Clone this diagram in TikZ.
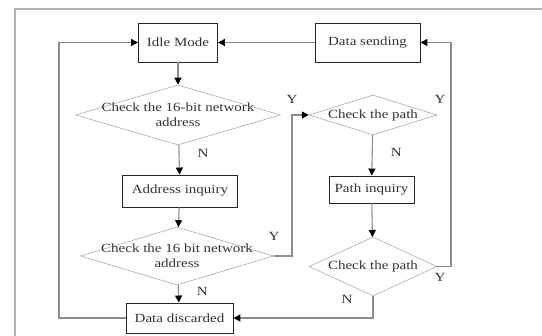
\documentclass[tikz,border=0pt]{standalone}
\usepackage{fontspec}
\setmainfont{Liberation Serif}[FakeStretch=1.2]
\usepackage{xcolor}
\usetikzlibrary{arrows.meta, shapes.geometric}
\definecolor{lineg}{gray}{0.55}
\definecolor{textg}{gray}{0.2}

\begin{document}
\begin{tikzpicture}[
  x=1pt, y=-1pt,
  every node/.style={font=\fontsize{12.5}{15}\selectfont, text=textg},
  box/.style={draw=black!85, line width=0.9pt, inner sep=0pt, align=center},
  decision/.style={diamond, draw=gray!75, line width=0.5pt, inner sep=0pt},
  arrow/.style={-{Triangle[length=7pt, width=7pt, color=black]}, line width=1.1pt, color=lineg},
  yn/.style={inner sep=1pt}
]
  \useasboundingbox (0,0) rectangle (542,336);
  \draw[line width=1.4pt, gray!60] (542,9) -- (15,9) -- (15,336);

  % Linke Spalte
  \node[box, minimum width=79pt, minimum height=39pt] (idle) at (178,42.5) {Idle Mode};
  \node[decision, minimum width=205pt, minimum height=60pt,
        label={[align=center]center:Check the 16-bit network\\address}] (chk1) at (178,115) {};
  \node[box, minimum width=115pt, minimum height=32pt] (addr) at (180,191) {Address inquiry};
  \node[decision, minimum width=193pt, minimum height=58pt,
        label={[align=center]center:Check the 16 bit network\\address}] (chk2) at (177,256) {};
  \node[box, minimum width=107pt, minimum height=30pt] (disc) at (179.5,318) {Data discarded};

  % Rechte Spalte
  \node[box, minimum width=105pt, minimum height=39pt] (send) at (367.5,42.5) {Data sending};
  \node[decision, minimum width=128pt, minimum height=40pt,
        label={center:Check the path}] (path1) at (373,115) {};
  \node[box, minimum width=85pt, minimum height=27pt] (pinq) at (371.5,189.5) {Path inquiry};
  \node[decision, minimum width=128pt, minimum height=59pt,
        label={center:Check the path}] (path2) at (373,266.5) {};

  \coordinate (back) at (59,318);
  \coordinate (mid) at (292,256);
  \coordinate (right) at (451,266.5);
  \coordinate (low) at (373,318);

  \draw[arrow] (idle) -- (chk1);
  \draw[arrow] (chk1) -- (addr) node[yn, pos=0.3, right=17pt] {N};
  \draw[arrow] (addr) -- (chk2);
  \draw[arrow] (chk2) -- (disc) node[yn, pos=0.35, right=17pt] {N};
  \draw[arrow] (disc.west) -- (back) |- (idle.west);
  \draw[arrow] (send.west) -- (idle.east);
  \draw[arrow] (chk2.east) -- (mid) |- (path1.west);
  \draw[arrow] (path1) -- (pinq) node[yn, pos=0.42, right=17pt] {N};
  \draw[arrow] (pinq) -- (path2);
  \draw[arrow] (path2.east) -- (right) |- (send.east);
  \draw[arrow] (path2.south) -- (low) -- (disc.east);

  % Beschriftungen
  \node[yn] (y1) at (274,236) {Y};
  \node[yn] (y2) at (292,99) {Y};
  \node[yn] (y3) at (440,99) {Y};
  \node[yn] (y4) at (440,277) {Y};
  \node[yn] (n4) at (347,299) {N};
\end{tikzpicture}
\end{document}
